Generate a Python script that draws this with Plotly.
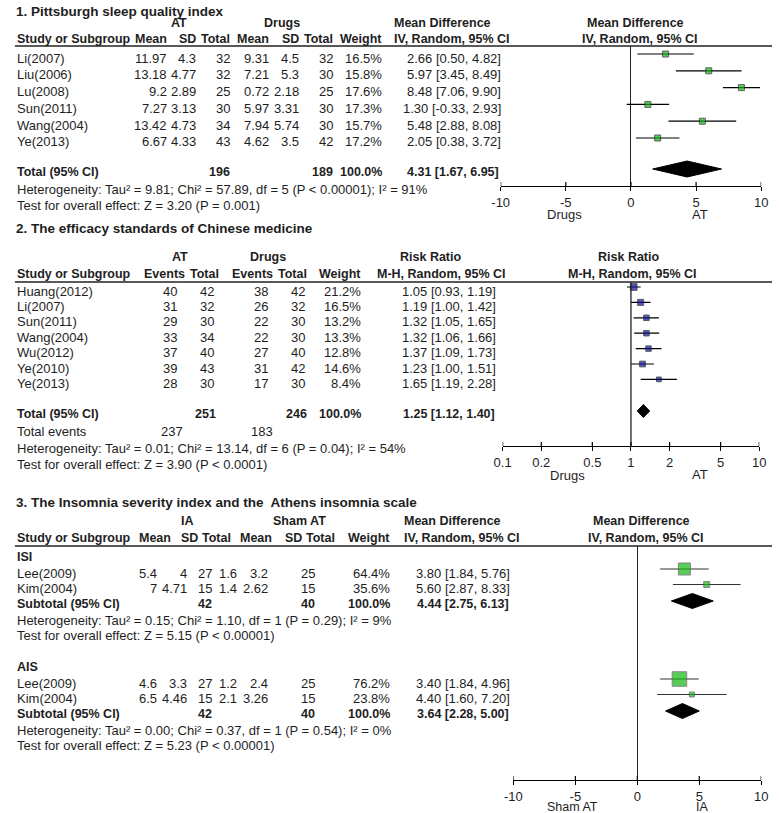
import plotly.graph_objects as go

W, H = 779, 813
FONT = "Liberation Sans, Arial, Helvetica, sans-serif"
TXT = "#1e1e1e"
FS = 13
FB = 12.5

# ---------------- Panel 1: Pittsburgh sleep quality index ----------------
p1_title = "1. Pittsburgh sleep quality index"
p1_studies = ["Li(2007)", "Liu(2006)", "Lu(2008)", "Sun(2011)", "Wang(2004)", "Ye(2013)"]
p1_at_mean = [11.97, 13.18, 9.2, 7.27, 13.42, 6.67]
p1_at_sd = [4.3, 4.77, 2.89, 3.13, 4.73, 4.33]
p1_at_n = [32, 32, 25, 30, 34, 43]
p1_dr_mean = [9.31, 7.21, 0.72, 5.97, 7.94, 4.62]
p1_dr_sd = [4.5, 5.3, 2.18, 3.31, 5.74, 3.5]
p1_dr_n = [32, 30, 25, 30, 30, 42]
p1_weight = [16.5, 15.8, 17.6, 17.3, 15.7, 17.2]
p1_est = [2.66, 5.97, 8.48, 1.30, 5.48, 2.05]
p1_lo = [0.50, 3.45, 7.06, -0.33, 2.88, 0.38]
p1_hi = [4.82, 8.49, 9.90, 2.93, 8.08, 3.72]
p1_tot_at_n, p1_tot_dr_n = 196, 189
p1_tot_est, p1_tot_lo, p1_tot_hi = 4.31, 1.67, 6.95
p1_het = "Heterogeneity: Tau² = 9.81; Chi² = 57.89, df = 5 (P &lt; 0.00001); I² = 91%"
p1_test = "Test for overall effect: Z = 3.20 (P = 0.001)"
p1_ticks = [-10, -5, 0, 5, 10]
p1_side = ["Drugs", "AT"]

# ---------------- Panel 2: efficacy standards of Chinese medicine ----------------
p2_title = "2. The efficacy standards of Chinese medicine"
p2_studies = ["Huang(2012)", "Li(2007)", "Sun(2011)", "Wang(2004)", "Wu(2012)", "Ye(2010)", "Ye(2013)"]
p2_at_ev = [40, 31, 29, 33, 37, 39, 28]
p2_at_n = [42, 32, 30, 34, 40, 43, 30]
p2_dr_ev = [38, 26, 22, 22, 27, 31, 17]
p2_dr_n = [42, 32, 30, 30, 40, 42, 30]
p2_weight = [21.2, 16.5, 13.2, 13.3, 12.8, 14.6, 8.4]
p2_est = [1.05, 1.19, 1.32, 1.32, 1.37, 1.23, 1.65]
p2_lo = [0.93, 1.00, 1.05, 1.06, 1.09, 1.00, 1.19]
p2_hi = [1.19, 1.42, 1.65, 1.66, 1.73, 1.51, 2.28]
p2_tot_at_n, p2_tot_dr_n = 251, 246
p2_tot_at_ev, p2_tot_dr_ev = 237, 183
p2_tot_est, p2_tot_lo, p2_tot_hi = 1.25, 1.12, 1.40
p2_het = "Heterogeneity: Tau² = 0.01; Chi² = 13.14, df = 6 (P = 0.04); I² = 54%"
p2_test = "Test for overall effect: Z = 3.90 (P &lt; 0.0001)"
p2_ticks = [0.1, 0.2, 0.5, 1, 2, 5, 10]
p2_side = ["Drugs", "AT"]

# ---------------- Panel 3: ISI and AIS ----------------
p3_title = "3. The Insomnia severity index and the  Athens insomnia scale"
p3_groups = ["ISI", "AIS"]
p3_studies = [["Lee(2009)", "Kim(2004)"], ["Lee(2009)", "Kim(2004)"]]
p3_ia_mean = [[5.4, 7], [4.6, 6.5]]
p3_ia_sd = [[4, 4.71], [3.3, 4.46]]
p3_ia_n = [[27, 15], [27, 15]]
p3_sh_mean = [[1.6, 1.4], [1.2, 2.1]]
p3_sh_sd = [[3.2, 2.62], [2.4, 3.26]]
p3_sh_n = [[25, 15], [25, 15]]
p3_weight = [[64.4, 35.6], [76.2, 23.8]]
p3_est = [[3.80, 5.60], [3.40, 4.40]]
p3_lo = [[1.84, 2.87], [1.84, 1.60]]
p3_hi = [[5.76, 8.33], [4.96, 7.20]]
p3_sub_ia_n = [42, 42]
p3_sub_sh_n = [40, 40]
p3_sub_est = [4.44, 3.64]
p3_sub_lo = [2.75, 2.28]
p3_sub_hi = [6.13, 5.00]
p3_het = ["Heterogeneity: Tau² = 0.15; Chi² = 1.10, df = 1 (P = 0.29); I² = 9%",
          "Heterogeneity: Tau² = 0.00; Chi² = 0.37, df = 1 (P = 0.54); I² = 0%"]
p3_test = ["Test for overall effect: Z = 5.15 (P &lt; 0.00001)",
           "Test for overall effect: Z = 5.23 (P &lt; 0.00001)"]
p3_ticks = [-10, -5, 0, 5, 10]
p3_side = ["Sham AT", "IA"]


def fmt(v):
    return "%g" % v


def ci(e, l, h):
    return f"{e:.2f} [{l:.2f}, {h:.2f}]"


ann = []
shapes = []


def txt(x, y, s, anchor="left", bold=False, size=None):
    if size is None:
        size = FB if bold else FS
    ann.append(dict(x=x / W, y=1 - y / H, xref="paper", yref="paper",
                    text=f"<b>{s}</b>" if bold else s, showarrow=False,
                    xanchor=anchor, yanchor="middle", borderpad=0,
                    font=dict(family=FONT, size=size, color=TXT)))


def hline(y):
    shapes.append(dict(type="line", xref="paper", yref="paper", x0=6 / W, x1=1,
                       y0=1 - y / H, y1=1 - y / H, line=dict(color="#222", width=1.6)))


fig = go.Figure()
MARK_OFF = -4


def forest(xa, ya, ys, est, lo, hi, sizes, fill, edge, linecolor):
    xs, yy = [], []
    for y, l, h in zip(ys, lo, hi):
        xs += [l, h, None]
        yy += [y + MARK_OFF, y + MARK_OFF, None]
    fig.add_trace(go.Scatter(x=xs, y=yy, mode="lines", xaxis=xa, yaxis=ya,
                             line=dict(color=linecolor, width=1.2), hoverinfo="skip", showlegend=False))
    fig.add_trace(go.Scatter(x=est, y=[y + MARK_OFF for y in ys], mode="markers", xaxis=xa, yaxis=ya,
                             marker=dict(symbol="square", size=sizes, color=fill,
                                         line=dict(color=edge, width=1)),
                             hoverinfo="skip", showlegend=False))


def diamond(xa, ya, y, e, l, h, half):
    yc = y + MARK_OFF + 1
    fig.add_trace(go.Scatter(x=[l, e, h, e, l], y=[yc, yc - half, yc, yc + half, yc],
                             mode="lines", fill="toself", fillcolor="black",
                             line=dict(color="black", width=1), xaxis=xa, yaxis=ya,
                             hoverinfo="skip", showlegend=False))


def inner_ticks(xa, ya, vals, axis_y):
    xs, yy = [], []
    for v in vals:
        xs += [v, v, None]
        yy += [axis_y - 4, axis_y, None]
    fig.add_trace(go.Scatter(x=xs, y=yy, mode="lines", xaxis=xa, yaxis=ya,
                             line=dict(color="black", width=1.2), hoverinfo="skip", showlegend=False))


# ================= Panel 1 layout =================
t1, h1a, h1b, l1 = 11, 23, 39, 46
rows1 = [58 + 16.8 * i for i in range(len(p1_studies))]
tot1, het1, test1 = 172, 190, 205
axis1 = 186
txt(6, t1, p1_title, bold=True, size=13.5)
txt(174, h1a, "AT", "center", True)
txt(279, h1a, "Drugs", "center", True)
txt(392, h1a, "Mean Difference", "left", True)
txt(640, h1a, "Mean Difference", "center", True)
c1 = [162, 192, 227, 266, 297, 332, 382]
txt(7, h1b, "Study or Subgroup", "left", True)
for x, s in zip(c1, ["Mean", "SD", "Total", "Mean", "SD", "Total", "Weight"]):
    txt(x, h1b, s, "right", True)
txt(392, h1b, "IV, Random, 95% CI", "left", True)
txt(644, h1b, "IV, Random, 95% CI", "center", True)
hline(l1)
for i, y in enumerate(rows1):
    txt(7, y, p1_studies[i])
    vals = [fmt(p1_at_mean[i]), fmt(p1_at_sd[i]), str(p1_at_n[i]), fmt(p1_dr_mean[i]),
            fmt(p1_dr_sd[i]), str(p1_dr_n[i]), f"{p1_weight[i]:.1f}%"]
    for x, s in zip(c1, vals):
        txt(x, y, s, "right")
    txt(503, y, ci(p1_est[i], p1_lo[i], p1_hi[i]), "right")
txt(7, tot1, "Total (95% CI)", "left", True)
txt(227, tot1, str(p1_tot_at_n), "right", True)
txt(332, tot1, str(p1_tot_dr_n), "right", True)
txt(382, tot1, "100.0%", "right", True)
txt(501, tot1, ci(p1_tot_est, p1_tot_lo, p1_tot_hi), "right", True)
txt(7, het1, p1_het)
txt(7, test1, p1_test)
txt(567, 215, p1_side[0], "center")
txt(705, 214, p1_side[1], "center")
forest("x", "y", rows1, p1_est, p1_lo, p1_hi, [6] * len(rows1), "#10b410", "#222", "black")
diamond("x", "y", tot1, p1_tot_est, p1_tot_lo, p1_tot_hi, 8)
inner_ticks("x", "y", p1_ticks, axis1)

# ================= Panel 2 layout =================
t2, h2a, h2b, l2 = 229, 257, 274, 282
rows2 = [291 + 15.4 * i for i in range(len(p2_studies))]
tot2, ev2, het2, test2 = 414, 431, 448, 464
axis2 = 446
txt(6, t2, p2_title, bold=True, size=13.5)
txt(175, h2a, "AT", "center", True)
txt(264, h2a, "Drugs", "center", True)
txt(398, h2a, "Risk Ratio", "left", True)
txt(633, h2a, "Risk Ratio", "center", True)
txt(7, h2b, "Study or Subgroup", "left", True)
for x, s in zip([181, 215, 271, 305, 360], ["Events", "Total", "Events", "Total", "Weight"]):
    txt(x, h2b, s, "right", True)
txt(375, h2b, "M-H, Random, 95% CI", "left", True)
txt(637, h2b, "M-H, Random, 95% CI", "center", True)
hline(l2)
for i, y in enumerate(rows2):
    txt(7, y, p2_studies[i])
    txt(164, y, str(p2_at_ev[i]), "center")
    txt(210, y, str(p2_at_n[i]), "right")
    txt(257, y, str(p2_dr_ev[i]), "center")
    txt(303, y, str(p2_dr_n[i]), "right")
    txt(360, y, f"{p2_weight[i]:.1f}%", "right")
    txt(498, y, ci(p2_est[i], p2_lo[i], p2_hi[i]), "right")
txt(7, tot2, "Total (95% CI)", "left", True)
txt(212, tot2, str(p2_tot_at_n), "right", True)
txt(305, tot2, str(p2_tot_dr_n), "right", True)
txt(360, tot2, "100.0%", "right", True)
txt(497, tot2, ci(p2_tot_est, p2_tot_lo, p2_tot_hi), "right", True)
txt(7, ev2, "Total events")
txt(166, ev2, str(p2_tot_at_ev), "center")
txt(258, ev2, str(p2_tot_dr_ev), "center")
txt(7, het2, p2_het)
txt(7, test2, p2_test)
txt(570, 475, p2_side[0], "center")
txt(705, 474, p2_side[1], "center")
forest("x2", "y2", rows2, p2_est, p2_lo, p2_hi, [3.5 + 0.15 * w for w in p2_weight],
       "#1010a8", "#111", "black")
diamond("x2", "y2", tot2, p2_tot_est, p2_tot_lo, p2_tot_hi, 6.5)
fig.add_trace(go.Scatter(x=[1, 1], y=[l2, axis2], mode="lines", xaxis="x2", yaxis="y2",
                         line=dict(color="#222", width=1.3), hoverinfo="skip", showlegend=False))
inner_ticks("x2", "y2", p2_ticks, axis2)

# ================= Panel 3 layout =================
t3, h3a, h3b, l3 = 503, 521, 538, 546
axis3 = 780
txt(6, t3, p3_title, bold=True, size=13.5)
txt(182, h3a, "IA", "center", True)
txt(297, h3a, "Sham AT", "center", True)
txt(402, h3a, "Mean Difference", "left", True)
txt(646, h3a, "Mean Difference", "center", True)
txt(7, h3b, "Study or Subgroup", "left", True)
for x, s in zip([166, 194, 228, 270, 300, 334, 390], ["Mean", "SD", "Total", "Mean", "SD", "Total", "Weight"]):
    txt(x, h3b, s, "right", True)
txt(402, h3b, "IV, Random, 95% CI", "left", True)
txt(650, h3b, "IV, Random, 95% CI", "center", True)
hline(l3)
c3 = [152, 183, 208, 234, 265, 313, 390]
group_top = [557, 667]
for g, gy in enumerate(group_top):
    txt(7, gy, p3_groups[g], "left", True)
    ys = [gy + 16 + 15.5 * i for i in range(len(p3_studies[g]))]
    for i, y in enumerate(ys):
        txt(7, y, p3_studies[g][i])
        vals = [fmt(p3_ia_mean[g][i]), fmt(p3_ia_sd[g][i]), str(p3_ia_n[g][i]), fmt(p3_sh_mean[g][i]),
                fmt(p3_sh_sd[g][i]), str(p3_sh_n[g][i]), f"{p3_weight[g][i]:.1f}%"]
        for x, s in zip(c3, vals):
            txt(x, y, s, "right")
        txt(513, y, ci(p3_est[g][i], p3_lo[g][i], p3_hi[g][i]), "right")
    sy = ys[-1] + 15.5
    txt(7, sy, "Subtotal (95% CI)", "left", True)
    txt(208, sy, str(p3_sub_ia_n[g]), "right", True)
    txt(313, sy, str(p3_sub_sh_n[g]), "right", True)
    txt(390, sy, "100.0%", "right", True)
    txt(512, sy, ci(p3_sub_est[g], p3_sub_lo[g], p3_sub_hi[g]), "right", True)
    txt(7, sy + 16, p3_het[g])
    txt(7, sy + 31, p3_test[g])
    forest("x3", "y3", ys, p3_est[g], p3_lo[g], p3_hi[g],
           [max(5, 0.21 * w - 1.5) for w in p3_weight[g]], "#12b812", "#555", "#333")
    diamond("x3", "y3", sy, p3_sub_est[g], p3_sub_lo[g], p3_sub_hi[g], 7.5)
txt(575, 806.5, p3_side[0], "center", size=12.5)
txt(708, 806.5, p3_side[1], "center", size=12.5)
inner_ticks("x3", "y3", p3_ticks, axis3)


def xax(domain, rng, ticks, log=False, zero=True):
    d = dict(domain=[domain[0] / W, domain[1] / W], range=rng, showgrid=False,
             showline=True, linecolor="black", linewidth=1.3,
             ticks="outside", ticklen=4, tickwidth=1.2, tickcolor="black",
             tickvals=ticks, ticktext=[fmt(t) for t in ticks],
             tickfont=dict(family=FONT, size=FS, color=TXT),
             zeroline=zero, zerolinecolor="#222", zerolinewidth=1.3, fixedrange=True)
    if log:
        d["type"] = "log"
        d["zeroline"] = False
    return d


def yax(top, bottom):
    return dict(domain=[1 - bottom / H, 1 - top / H], range=[bottom, top], visible=False,
                showgrid=False, zeroline=False, fixedrange=True)


fig.update_layout(
    width=W, height=H, margin=dict(l=0, r=0, t=0, b=0),
    paper_bgcolor="white", plot_bgcolor="white", showlegend=False,
    xaxis=dict(xax((502, 768), [-10, 10], p1_ticks), anchor="y"),
    yaxis=yax(l1, axis1),
    xaxis2=dict(xax((504, 766), [-1, 1], p2_ticks, log=True), anchor="y2"),
    yaxis2=yax(l2, axis2),
    xaxis3=dict(xax((515, 768), [-10, 10], p3_ticks), anchor="y3"),
    yaxis3=yax(l3, axis3),
    annotations=ann, shapes=shapes,
)

fig.write_html("out.html", config={"displayModeBar": False},
               post_script="document.body.style.margin='0px';")
